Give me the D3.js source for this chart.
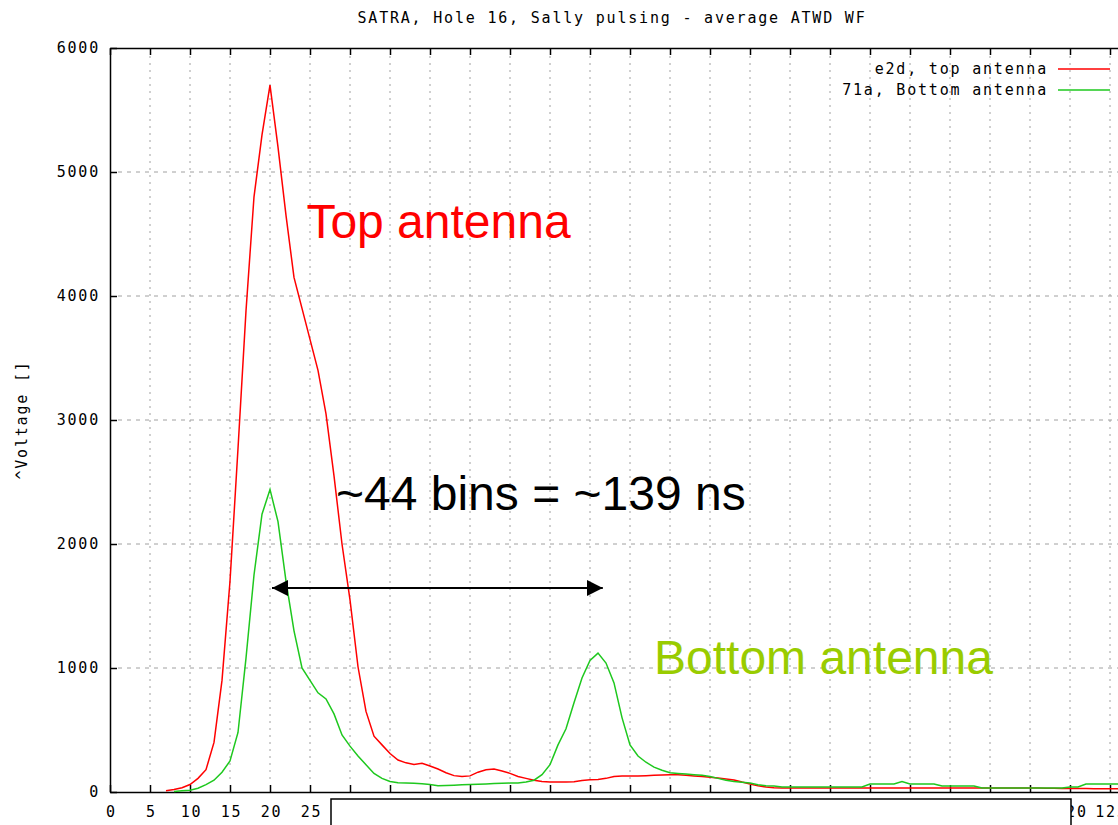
<!DOCTYPE html>
<html>
<head>
  <meta charset="utf-8" />
  <title>SATRA average ATWD WF</title>
  <script src="https://cdn.jsdelivr.net/npm/d3@7"></script>
  <style>
    body { margin: 0; background: #fff; }
    svg { display: block; }
    .mono { font-family: "DejaVu Sans Mono", monospace; font-size: 15px; letter-spacing: 1.8px; fill: #000; }
    .note { font-family: "Liberation Sans", Arial, sans-serif; font-size: 48px; }
  </style>
</head>
<body>
<div id="chart"></div>
<script>
  // data, one value per ATWD bin
  var titleText = "SATRA, Hole 16, Sally pulsing - average ATWD WF";
  var yLabel = "^Voltage []";
  var seriesNames = ["e2d, top antenna", "71a, Bottom antenna"];
  var xTicks = [0, 5, 10, 15, 20, 25, 30, 35, 40, 45, 50, 55, 60, 65, 70, 75, 80, 85, 90, 95, 100, 105, 110, 115, 120, 125, 130];
  var yTicks = [0, 1000, 2000, 3000, 4000, 5000, 6000];

  var topStart = 7;
  var topValues = [10, 20, 35, 60, 110, 180, 400, 900, 1700, 2770,   // 7-16
    3880, 4800, 5300, 5700, 5200, 4650, 4150, 3900, 3650, 3400,       // 17-26
    3050, 2550, 2000, 1550, 1010, 650, 450, 380, 310, 258,            // 27-36
    235, 222, 232, 210, 185, 155, 132, 126, 130, 160,                 // 37-46
    180, 185, 170, 150, 125, 110, 95, 85, 80, 80,                     // 47-56
    80, 82, 92, 98, 100, 110, 125, 130, 130, 130,                     // 57-66
    132, 135, 137, 140, 140, 135, 130, 125, 118, 113,                 // 67-76
    105, 97, 80, 65, 50, 40, 35, 32, 32, 32,                          // 77-86
    32, 32, 32, 32, 32, 32, 32, 32, 32, 32,                           // 87-96
    32, 32, 32, 32, 32, 32, 32, 32, 32, 32,                           // 97-106
    32, 32, 32, 32, 32, 32, 32, 32, 32, 32,                           // 107-116
    30, 30, 28, 28, 28, 28, 26, 26, 26, 26, 26];                      // 117-127

  var bottomStart = 8;
  var bottomValues = [5, 10, 15, 30, 60, 95, 160, 250, 480,           // 8-16
    1080, 1750, 2240, 2440, 2180, 1700, 1300, 1000, 900, 800,         // 17-26
    750, 630, 460, 370, 290, 220, 150, 110, 85, 75,                   // 27-36
    72, 70, 66, 60, 50, 52, 55, 58, 60, 62,                           // 37-46
    65, 68, 70, 72, 73, 80, 95, 140, 220, 380,                        // 47-56
    510, 720, 920, 1060, 1120, 1040, 880, 600, 380, 290,              // 57-66
    240, 200, 175, 155, 150, 145, 140, 135, 125, 110,                 // 67-76
    95, 85, 78, 72, 58, 50, 48, 40, 40, 40,                           // 77-86
    40, 40, 40, 40, 40, 40, 40, 40, 65, 65,                           // 87-96
    65, 65, 85, 65, 65, 65, 65, 48, 48, 48,                           // 97-106
    48, 48, 32, 32, 32, 32, 32, 32, 32, 32,                           // 107-116
    32, 32, 32, 40, 40, 65, 65, 65, 65, 65, 65];                      // 117-127

  var width = 1118, height = 825;
  var plotL = 110, plotT = 48, plotB = 792, plotR = 1150;

  var svg = d3.select("#chart").append("svg")
    .attr("width", width)
    .attr("height", height);

  var x = d3.scaleLinear().domain([0, 130]).range([plotL, plotR]);
  var y = d3.scaleLinear().domain([0, 6000]).range([plotB, plotT]);

  // grid
  svg.append("g").selectAll("line")
    .data(xTicks.slice(1, -1))
    .enter().append("line")
    .attr("x1", d => x(d)).attr("x2", d => x(d))
    .attr("y1", plotT + 8).attr("y2", plotB - 8)
    .attr("stroke", "#a0a0a0")
    .attr("stroke-dasharray", "2,5");

  svg.append("g").selectAll("line")
    .data(yTicks.slice(1, -1))
    .enter().append("line")
    .attr("x1", plotL + 8).attr("x2", width)
    .attr("y1", d => y(d)).attr("y2", d => y(d))
    .attr("stroke", "#a0a0a0")
    .attr("stroke-dasharray", "4,5");

  // axes, gnuplot style: ticks pointing in, mirrored on top
  var xAxis = svg.append("g")
    .attr("transform", "translate(0," + plotB + ")")
    .call(d3.axisBottom(x).tickValues(xTicks).tickSize(-7).tickPadding(14).tickSizeOuter(0));
  var xTop = svg.append("g")
    .attr("transform", "translate(0," + plotT + ")")
    .call(d3.axisTop(x).tickValues(xTicks).tickSize(-7).tickFormat("").tickSizeOuter(0));
  var yAxis = svg.append("g")
    .attr("transform", "translate(" + plotL + ",0)")
    .call(d3.axisLeft(y).tickValues(yTicks).tickFormat(d3.format("d")).tickSize(-7).tickPadding(12).tickSizeOuter(0));

  [xAxis, xTop, yAxis].forEach(function(g) {
    g.select(".domain").attr("stroke", "#000").attr("stroke-width", 1.5);
    g.selectAll(".tick line").attr("stroke", "#000").attr("stroke-width", 1.5);
    g.selectAll(".tick text").attr("class", "mono").attr("font-family", null).attr("font-size", null);
  });
  xAxis.selectAll(".tick text").attr("dx", "1px");
  yAxis.selectAll(".tick text").attr("dx", "2px");

  // curves
  var line = d3.line()
    .x(d => x(d[0]))
    .y(d => y(d[1]));

  var topPts = topValues.map((v, i) => [topStart + i, v]);
  var bottomPts = bottomValues.map((v, i) => [bottomStart + i, v]);

  svg.append("path")
    .datum(topPts)
    .attr("d", line)
    .attr("fill", "none")
    .attr("stroke", "#ff0000")
    .attr("stroke-width", 1.5);

  svg.append("path")
    .datum(bottomPts)
    .attr("d", line)
    .attr("fill", "none")
    .attr("stroke", "#1ec81e")
    .attr("stroke-width", 1.5);

  // title and y label
  svg.append("text")
    .attr("class", "mono")
    .attr("x", 612).attr("y", 23)
    .attr("text-anchor", "middle")
    .text(titleText);

  svg.append("text")
    .attr("class", "mono")
    .attr("transform", "translate(27,420) rotate(-90)")
    .attr("text-anchor", "middle")
    .text(yLabel);

  // legend
  var legendColors = ["#ff0000", "#1ec81e"];
  var legend = svg.append("g");
  seriesNames.forEach(function(name, i) {
    var ly = 69 + i * 21;
    legend.append("text")
      .attr("class", "mono")
      .attr("x", 1048).attr("y", ly + 5)
      .attr("text-anchor", "end")
      .text(name);
    legend.append("line")
      .attr("x1", 1058).attr("x2", 1110)
      .attr("y1", ly).attr("y2", ly)
      .attr("stroke", legendColors[i])
      .attr("stroke-width", 1.5);
  });

  // annotations
  var defs = svg.append("defs");
  defs.append("marker")
    .attr("id", "arrowhead")
    .attr("viewBox", "0 0 10 10")
    .attr("refX", 10).attr("refY", 5)
    .attr("markerWidth", 8).attr("markerHeight", 8)
    .attr("markerUnits", "strokeWidth")
    .attr("orient", "auto-start-reverse")
    .append("path")
    .attr("d", "M0,0 L10,5 L0,10 Z")
    .attr("fill", "#000");

  svg.append("line")
    .attr("x1", x(20.25)).attr("x2", x(61.6))
    .attr("y1", y(1645)).attr("y2", y(1645))
    .attr("stroke", "#000")
    .attr("stroke-width", 2)
    .attr("marker-start", "url(#arrowhead)")
    .attr("marker-end", "url(#arrowhead)");

  svg.append("text")
    .attr("class", "note")
    .attr("x", x(24.55)).attr("y", y(4468))
    .attr("fill", "#ff0000")
    .text("Top antenna");

  svg.append("text")
    .attr("class", "note")
    .attr("x", x(28.25)).attr("y", y(2274))
    .attr("fill", "#000")
    .text("~44 bins = ~139 ns");

  svg.append("text")
    .attr("class", "note")
    .attr("x", x(68.0)).attr("y", y(950))
    .attr("fill", "#99cc00")
    .text("Bottom antenna");

  // the blank box pasted over the middle of the x labels
  svg.append("rect")
    .attr("x", 331).attr("y", 799)
    .attr("width", 740).attr("height", 40)
    .attr("fill", "#fff")
    .attr("stroke", "#000")
    .attr("stroke-width", 1.5);
</script>
</body>
</html>
